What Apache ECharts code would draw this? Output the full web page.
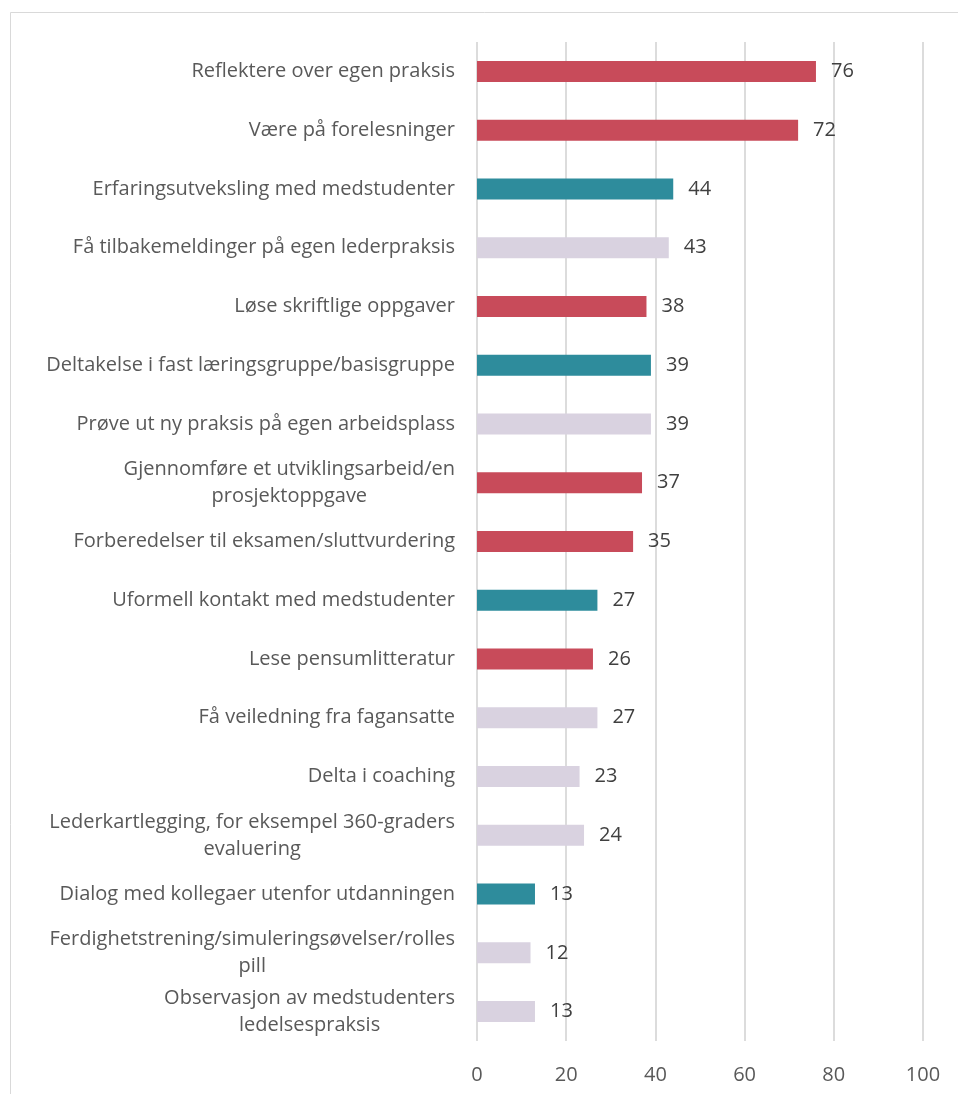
<!DOCTYPE html>
<html>
<head>
<meta charset="utf-8">
<script src="https://cdn.jsdelivr.net/npm/echarts@6/dist/echarts.min.js"></script>
<style>
    html, body { margin: 0; padding: 0; background: #fff; }
    #chart { width: 958px; height: 1094px; }
</style>
</head>
<body>
<div id="chart"></div>
<script>
// aktiviteter, ovenfra og ned
const categories = [
    "Reflektere over egen praksis",
    "Være på forelesninger",
    "Erfaringsutveksling med medstudenter",
    "Få tilbakemeldinger på egen lederpraksis",
    "Løse skriftlige oppgaver",
    "Deltakelse i fast læringsgruppe/basisgruppe",
    "Prøve ut ny praksis på egen arbeidsplass",
    "Gjennomføre et utviklingsarbeid/en\nprosjektoppgave",
    "Forberedelser til eksamen/sluttvurdering",
    "Uformell kontakt med medstudenter",
    "Lese pensumlitteratur",
    "Få veiledning fra fagansatte",
    "Delta i coaching",
    "Lederkartlegging, for eksempel 360-graders\nevaluering",
    "Dialog med kollegaer utenfor utdanningen",
    "Ferdighetstrening/simuleringsøvelser/rolles\npill",
    "Observasjon av medstudenters\nledelsespraksis",
]
const values = [76, 72, 44, 43, 38, 39, 39, 37, 35, 27, 26, 27, 23, 24, 13, 12, 13]
// 0 = rød, 1 = blågrønn, 2 = lilla
const groups = [0, 0, 1, 2, 0, 1, 2, 0, 0, 1, 0, 2, 2, 2, 1, 2, 2]
const xTicks = [0, 20, 40, 60, 80, 100]

const groupColors = ["#C84B5A", "#2E8C9C", "#D9D2E0"]
const textColor = "#595959"
const fontFamily = "'Open Sans', 'Noto Sans', sans-serif"

const chart = echarts.init(document.getElementById("chart"))

chart.setOption({
    animation: false,
    backgroundColor: "#fff",
    graphic: [
        {
            type: "rect",
            silent: true,
            shape: { x: 10.5, y: 12.5, width: 1000, height: 1200 },
            style: { fill: "none", stroke: "#d9d9d9", lineWidth: 1 },
        },
    ],
    grid: {
        left: 477,
        right: 35,
        top: 42,
        bottom: 53,
        containLabel: false,
    },
    xAxis: {
        type: "value",
        min: xTicks[0],
        max: xTicks[xTicks.length - 1],
        interval: 20,
        axisLine: { show: false },
        axisTick: { show: false },
        axisLabel: {
            color: textColor,
            fontSize: 20,
            fontFamily,
            margin: 24,
        },
        splitLine: {
            show: true,
            lineStyle: { color: "#dcdcdc", width: 2 },
        },
    },
    yAxis: {
        type: "category",
        inverse: true,
        data: categories,
        axisLine: { show: false },
        axisTick: { show: false },
        axisLabel: {
            color: textColor,
            fontSize: 20,
            fontFamily,
            margin: 22,
            lineHeight: 27,
            formatter: value => `{c|${value}}`,
            rich: {
                c: {
                    align: "center",
                    color: textColor,
                    fontSize: 20,
                    fontFamily,
                    lineHeight: 27,
                },
            },
        },
    },
    series: [
        {
            type: "bar",
            barWidth: 21,
            data: values.map((v, i) => ({
                value: v,
                itemStyle: { color: groupColors[groups[i]] },
            })),
            label: {
                show: true,
                position: "right",
                distance: 15,
                color: "#404040",
                fontSize: 20,
                fontFamily,
            },
        },
    ],
})
</script>
</body>
</html>
